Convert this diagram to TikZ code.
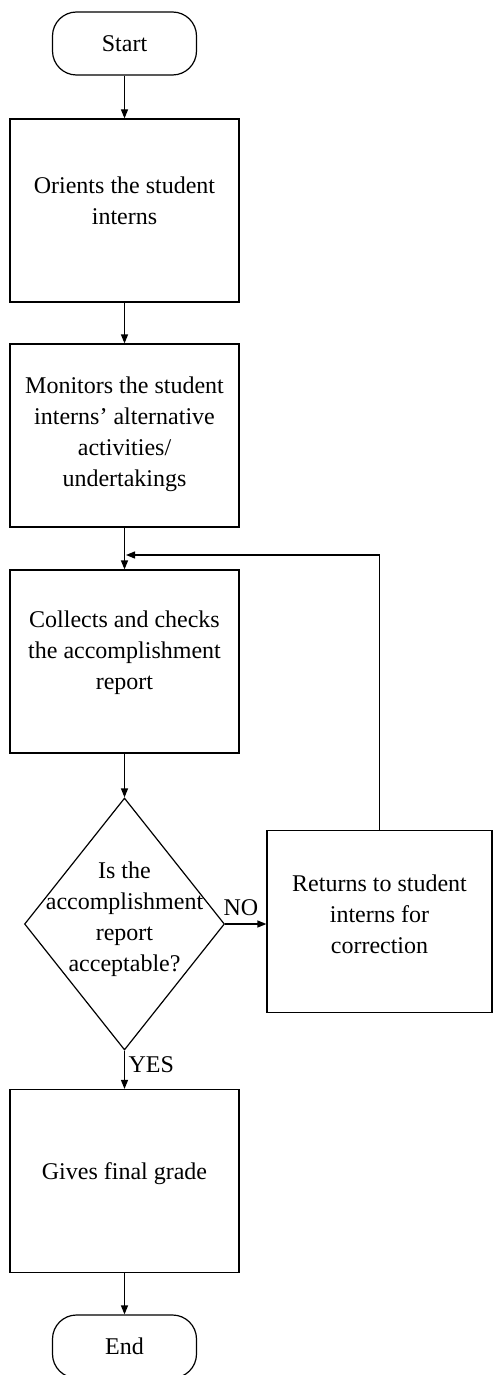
\documentclass[tikz,border=0pt]{standalone}
\usepackage{fontspec}
\setmainfont{Liberation Serif}
\usetikzlibrary{arrows.meta,shapes.geometric}
\begin{document}
\begin{tikzpicture}[x=1pt,y=-1pt,line width=1.2pt,
  box/.style={draw,rectangle,minimum width=229pt,minimum height=183pt,inner sep=0pt},
  term/.style={draw,rectangle,rounded corners=24pt,minimum width=144pt,minimum height=63pt,font=\fontsize{24}{31}\selectfont},
  txt/.style={align=center,font=\fontsize{24}{31}\selectfont,inner sep=0pt},
  lbl/.style={font=\fontsize{24}{31}\selectfont,inner sep=0pt},
  arr/.style={-{Triangle[length=9pt,width=7pt]}}]
\clip (0,0) rectangle (494,1375);
\node[term] (start) at (124.5,43.5) {Start};
\node[box] (b1) at (124.5,210.5) {};
\node[txt] (t1) at (124.5,201) {Orients the student\\interns};
\node[box] (b2) at (124.5,435.5) {};
\node[txt] (t2) at (124.5,434) {Monitors the student\\interns' alternative\\activities/\\undertakings};
\node[box] (b3) at (124.5,661.5) {};
\node[txt] (t3) at (124.5,653) {Collects and checks\\the accomplishment\\report};
\node[diamond,draw,minimum width=200pt,minimum height=252pt,inner sep=0pt] (d) at (124.5,924) {};
\node[txt] (dt) at (124.5,919) {Is the\\accomplishment\\report\\acceptable?};
\node[draw,rectangle,minimum width=225pt,minimum height=182pt,inner sep=0pt] (ret) at (379.5,921.5) {};
\node[txt] (rt) at (379.5,914) {Returns to student\\interns for\\correction};
\node[box] (b4) at (124.5,1181) {};
\node[txt] (t4) at (124.5,1174) {Gives final grade};
\node[term] (end) at (124.5,1346.5) {End};
\node[lbl,anchor=base west] (no) at (223,915) {NO};
\node[lbl,anchor=base west] (yes) at (128,1072) {YES};
\coordinate (loop) at (126,555);
\draw[arr] (start) -- (b1);
\draw[arr] (b1) -- (b2);
\draw[arr] (b2) -- (b3);
\draw[arr] (b3) -- (d);
\draw[arr] (d.east) -- (d.east -| ret.west);
\draw[arr] (ret.north) |- (loop);
\draw[arr] (d.south) -- (b4);
\draw[arr] (b4) -- (end);
\end{tikzpicture}
\end{document}
